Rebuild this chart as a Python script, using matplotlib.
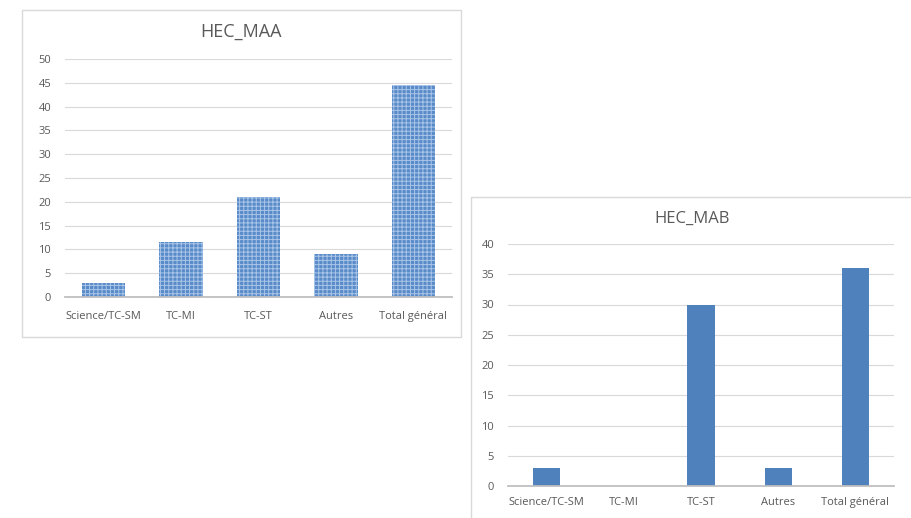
import numpy as np
import matplotlib.pyplot as plt
from matplotlib.patches import Rectangle

categories = ["Science/TC-SM", "TC-MI", "TC-ST", "Autres", "Total général"]
maa_values = [3, 11.5, 21, 9, 44.5]
mab_values = [3, 0, 30, 3, 36]
maa_ticks = [0, 5, 10, 15, 20, 25, 30, 35, 40, 45, 50]
mab_ticks = [0, 5, 10, 15, 20, 25, 30, 35, 40]

W, H = 911, 518
plt.rcParams["font.family"] = ["Open Sans", "DejaVu Sans"]
plt.rcParams["hatch.linewidth"] = 0.7
fig = plt.figure(figsize=(W / 100, H / 100), dpi=100)
fig.patch.set_facecolor("white")

BLUE = "#4f81bd"
GRID = "#d9d9d9"
TXT = "#595959"


def px_box(x0, y0, x1, y1):
    # pixel box -> figure coords [left, bottom, width, height]
    return [x0 / W, 1 - y1 / H, (x1 - x0) / W, (y1 - y0) / H]


def cadre(x0, y0, x1, y1):
    l, b, w, h = px_box(x0, y0, x1, y1)
    fig.patches.append(Rectangle((l, b), w, h, transform=fig.transFigure,
                                 facecolor="none", edgecolor=GRID,
                                 linewidth=1.0, zorder=-1))


def style_axe(ax, ticks, pad):
    ax.set_yticks(ticks)
    ax.set_ylim(ticks[0], ticks[-1])
    ax.set_xlim(-0.5, len(categories) - 0.5)
    ax.set_xticks(np.arange(len(categories)))
    ax.set_xticklabels(categories)
    ax.tick_params(length=0, labelsize=8, colors=TXT)
    ax.tick_params(axis="x", pad=pad)
    ax.tick_params(axis="y", pad=10)
    for s in ["top", "right", "left"]:
        ax.spines[s].set_visible(False)
    ax.spines["bottom"].set_color("#bfbfbf")
    ax.spines["bottom"].set_linewidth(1.3)
    ax.grid(True, axis="y", color=GRID, linewidth=0.8)
    ax.set_axisbelow(True)
    ax.set_facecolor("none")


# graphique HEC_MAA (gauche)
cadre(22, 10, 461, 337)
ax1 = fig.add_axes(px_box(65, 59, 452, 297))
ax1.bar(np.arange(len(categories)), maa_values, width=0.56,
        facecolor="#5a8bc9", edgecolor="#a9c5e8", hatch="++++", linewidth=0)
style_axe(ax1, maa_ticks, pad=10)
fig.text(241 / W, 1 - 32 / H, "HEC_MAA", ha="center", va="center",
         fontsize=13, color=TXT)

# graphique HEC_MAB (droite)
cadre(471, 197, 912, 520)
ax2 = fig.add_axes(px_box(508, 244, 894, 486))
ax2.bar(np.arange(len(categories)), mab_values, width=0.35, color=BLUE)
style_axe(ax2, mab_ticks, pad=8)
fig.text(692 / W, 1 - 219 / H, "HEC_MAB", ha="center", va="center",
         fontsize=12, color=TXT)

fig.savefig("out.png", dpi=100, facecolor="white")
